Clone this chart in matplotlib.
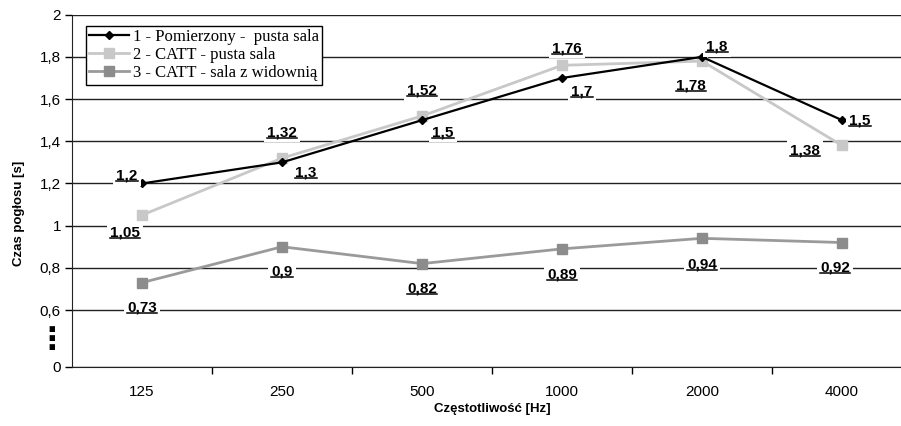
import matplotlib
matplotlib.use("Agg")
import matplotlib.pyplot as plt
from matplotlib.lines import Line2D
from matplotlib.transforms import IdentityTransform

# Data
freqs = ["125", "250", "500", "1000", "2000", "4000"]
measured = [1.2, 1.3, 1.5, 1.7, 1.8, 1.5]
catt_empty = [1.05, 1.32, 1.52, 1.76, 1.78, 1.38]
catt_audience = [0.73, 0.9, 0.82, 0.89, 0.94, 0.92]
series_names = ["1 - Pomierzony -  pusta sala", "2 - CATT - pusta sala", "3 - CATT - sala z widownią"]
y_ticks = [0.6, 0.8, 1.0, 1.2, 1.4, 1.6, 1.8, 2.0]

# label offsets in pixels (dx, dy) per series
off_measured = [(-15, 8), (24, -10), (21, -12), (20, -14), (15, 10), (18, 0)]
off_empty = [(-17, -17), (0, 26), (0, 25), (5, 17), (-11, -24), (-37, -5)]
off_audience = [(0, -25), (0, -25), (0, -25), (0, -26), (0, -26), (-7, -25)]

y_bottom = 0.33
x = list(range(len(freqs)))

plt.rcParams["font.family"] = ["Liberation Sans", "DejaVu Sans"]

fig = plt.figure(figsize=(9.01, 4.26), dpi=100)
ax = fig.add_axes([72 / 901, 59 / 426, 840 / 901, 352.3 / 426])

ax.plot(x, catt_audience, color="#9a9a9a", lw=2, marker="s", ms=7.5,
        mfc="#8c8c8c", mec="#8c8c8c", label=series_names[2], zorder=3)
ax.plot(x, catt_empty, color="#c8c8c8", lw=2, marker="s", ms=7.5,
        mfc="#c8c8c8", mec="#c8c8c8", label=series_names[1], zorder=4)
ax.plot(x, measured, color="black", lw=1.6, marker="D", ms=4.5,
        label=series_names[0], zorder=5)

ax.set_xlim(-0.5, len(freqs) - 0.5)
ax.set_ylim(y_bottom, 2.0)

ax.set_yticks([y_bottom] + y_ticks)
ax.set_yticklabels(["0"] + [f"{v:g}".replace(".", ",") for v in y_ticks])
ax.set_xticks(x)
ax.set_xticklabels(freqs)
ax.set_xticks([i + 0.5 for i in x[:-1]], minor=True)
ax.tick_params(axis="x", which="major", length=0, pad=13, labelsize=11)
ax.tick_params(axis="x", which="minor", length=5, width=1, direction="out")
ax.tick_params(axis="y", length=5, width=1, direction="out", labelsize=11, pad=3)

ax.grid(axis="y", color="#222222", lw=1)
ax.set_axisbelow(True)
for side in ["top", "right"]:
    ax.spines[side].set_visible(False)
ax.spines["left"].set_color("#222222")
ax.spines["bottom"].set_color("#222222")

ax.set_ylabel("Czas pogłosu [s]", fontsize=9.5, fontweight="bold")
ax.yaxis.set_label_coords(-0.056, 0.437)
ax.set_xlabel("Częstotliwość [Hz]", fontsize=9.5, fontweight="bold", labelpad=3)

# gap marker on the broken axis
fig.text(52 / 901, 1 - 341 / 426, "⋮", fontsize=22, fontweight="bold",
         family="DejaVu Sans", ha="center", va="center")

handles, labels = ax.get_legend_handles_labels()
leg = ax.legend(handles[::-1], labels[::-1], loc="upper left",
                bbox_to_anchor=(0.0167, 0.968), frameon=True, fancybox=False,
                edgecolor="black", framealpha=1, borderpad=0.2, labelspacing=0.12,
                handlelength=2.4, handletextpad=0.2, borderaxespad=0,
                prop={"family": "Liberation Serif", "size": 12})
leg.get_frame().set_linewidth(1)

labels_drawn = []
for vals, offs in [(measured, off_measured), (catt_empty, off_empty), (catt_audience, off_audience)]:
    for xi, v, (dx, dy) in zip(x, vals, offs):
        t = ax.annotate(f"{v:g}".replace(".", ","), (xi, v), xytext=(dx, dy),
                        textcoords="offset pixels", ha="center", va="center",
                        fontsize=11, fontweight="bold", zorder=6,
                        bbox=dict(boxstyle="square,pad=0.2", fc="white", ec="none"))
        labels_drawn.append(t)

# underline the data labels
fig.canvas.draw()
renderer = fig.canvas.get_renderer()
for t in labels_drawn:
    bb = t.get_window_extent(renderer)
    y0 = bb.y0 + 1.5
    fig.add_artist(Line2D([bb.x0, bb.x1], [y0, y0], color="black",
                          lw=1.1, transform=IdentityTransform()))

fig.savefig("out.png", dpi=100)
